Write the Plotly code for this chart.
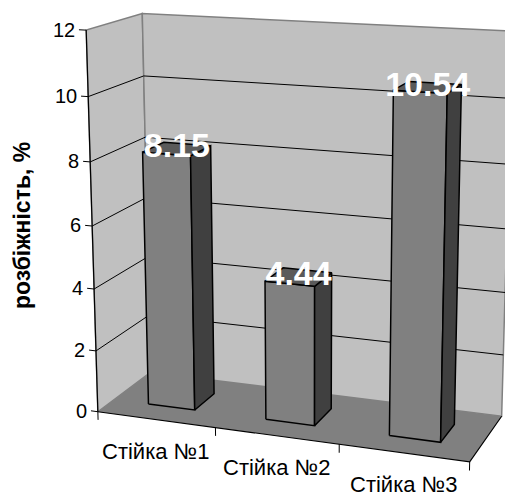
import numpy as np
import plotly.graph_objects as go

# ---------------- data ----------------
categories = ["Стійка №1", "Стійка №2", "Стійка №3"]
values = [8.15, 4.44, 10.54]
value_ticks = [0, 2, 4, 6, 8, 10, 12]
value_tick_labels = ["0", "2", "4", "6", "8", "10", "12"]
value_axis_title = "розбіжність, %"

# ---------------- 3-D frame / camera calibration ----------------
# world: X = category axis (0..n), Y = depth (0 front .. 1 back), Z = value axis
Z_MAX = 12.0
N_CAT = len(categories)
calib_world = np.array([
    [0, 0, 0], [0, 0, 12], [0, 0, 2], [0, 0, 4], [0, 0, 6], [0, 0, 8], [0, 0, 10],
    [0, 1, 0], [0, 1, 12], [0, 1, 10], [0, 1, 8],
    [3, 0, 0], [1, 0, 0], [2, 0, 0],
    [3, 1, 0], [3, 1, 12], [3, 1, 10],
], dtype=float)
calib_px = np.array([
    [99, 411], [85, 30], [97, 352], [95, 289], [92, 226], [90, 162], [87, 97],
    [148, 373], [143, 13], [145, 76], [146, 137],
    [471, 462], [215, 427], [338, 444],
    [502, 416], [512, 31], [510, 99],
], dtype=float)

WSCALE = np.array([N_CAT, 1.0, Z_MAX])


def fit_projection(W, P):
    Wn = W / WSCALE
    Pn = (P - 250.0) / 250.0
    rows = []
    for (X, Y, Z), (u, v) in zip(Wn, Pn):
        rows.append([X, Y, Z, 1, 0, 0, 0, 0, -u * X, -u * Y, -u * Z, -u])
        rows.append([0, 0, 0, 0, X, Y, Z, 1, -v * X, -v * Y, -v * Z, -v])
    _, _, Vt = np.linalg.svd(np.array(rows))
    return Vt[-1].reshape(3, 4)


M = fit_projection(calib_world, calib_px)


def proj(X, Y, Z):
    h = M @ np.array([X / N_CAT, Y, Z / Z_MAX, 1.0])
    return h[0] / h[2] * 250 + 250, h[1] / h[2] * 250 + 250


traces = []


def poly(pts, fill, line_color="rgba(0,0,0,0)", lw=0):
    xy = [proj(*p) for p in pts]
    xs = [a for a, b in xy] + [xy[0][0]]
    ys = [b for a, b in xy] + [xy[0][1]]
    traces.append(go.Scatter(x=xs, y=ys, mode="lines", fill="toself", fillcolor=fill,
                             line=dict(color=line_color, width=lw), hoverinfo="skip"))


def lines(segs, color, lw):
    xs, ys = [], []
    for seg in segs:
        for p in seg:
            a, b = proj(*p)
            xs.append(a)
            ys.append(b)
        xs.append(None)
        ys.append(None)
    traces.append(go.Scatter(x=xs, y=ys, mode="lines", line=dict(color=color, width=lw),
                             hoverinfo="skip"))


WALL = "#c0c0c0"
FLOOR = "#808080"
EDGE = "#808080"

# side wall & back wall
poly([(0, 0, 0), (0, 1, 0), (0, 1, Z_MAX), (0, 0, Z_MAX)], WALL, EDGE, 1.5)
poly([(0, 1, 0), (N_CAT, 1, 0), (N_CAT, 1, Z_MAX), (0, 1, Z_MAX)], WALL, EDGE, 1.5)

# gridlines
grid = [[(0, 0, z), (0, 1, z), (N_CAT, 1, z)] for z in value_ticks if 0 < z < Z_MAX]
lines(grid, "#000000", 1)

# floor
poly([(0, 0, 0), (N_CAT, 0, 0), (N_CAT, 1, 0), (0, 1, 0)], FLOOR)
lines([[(0, 0, 0), (N_CAT, 0, 0), (N_CAT, 1, 0)]], "#000000", 1.2)

# value axis line + ticks
lines([[(0, 0, 0), (0, 0, Z_MAX)]], "#000000", 1.2)
lines([[(0, 0, z), (-0.06, 0, z)] for z in value_ticks], "#000000", 1)
# category ticks
lines([[(i, 0, 0), (i, 0, -0.27)] for i in range(N_CAT + 1)], "#000000", 1)

# bars
GAP = 0.3
D0, D1 = 0.3, 0.7
label_x, label_y = [], []
for i, v in enumerate(values):
    a, b = i + GAP, i + 1 - GAP
    poly([(a, D0, 0), (b, D0, 0), (b, D0, v), (a, D0, v)], "#808080", "#000000", 1.5)
    poly([(b, D0, 0), (b, D1, 0), (b, D1, v), (b, D0, v)], "#404040", "#000000", 1.5)
    poly([(a, D0, v), (b, D0, v), (b, D1, v), (a, D1, v)], "#5a5a5a", "#000000", 1.5)
    lx, ly = proj(i + 0.5, 0.5, v)
    label_x.append(lx)
    label_y.append(ly)

traces.append(go.Scatter(x=label_x, y=label_y, mode="text",
                         text=[f"{v:.2f}" for v in values], textposition="middle center",
                         textfont=dict(family="Liberation Sans, Arial", size=34, color="white",
                                       weight="bold"),
                         hoverinfo="skip"))

annotations = []
for z, t in zip(value_ticks, value_tick_labels):
    px, py = proj(-0.06, 0, z)
    annotations.append(dict(x=px - 2, y=py, xref="x", yref="y", text=t, showarrow=False,
                            xanchor="right", yanchor="middle",
                            font=dict(family="Liberation Sans, Arial", size=20, color="black")))
for i, c in enumerate(categories):
    px, py = proj(i + 0.5, 0, 0)
    annotations.append(dict(x=px, y=py, xref="x", yref="y", text=c, showarrow=False,
                            xanchor="center", yanchor="middle", yshift=-32,
                            font=dict(family="Liberation Sans, Arial", size=22, color="black")))
annotations.append(dict(x=22, y=226, xref="x", yref="y",
                        text=value_axis_title, showarrow=False, textangle=-90,
                        xanchor="center", yanchor="middle",
                        font=dict(family="Liberation Sans, Arial", size=23, color="black",
                                  weight="bold")))

# the page body carries the browser's default 8 px margin: shift axis ranges so
# that data coordinates coincide with window pixels
PAGE_OFF = 8
W, H = 513, 497
fig = go.Figure(traces)
fig.update_layout(
    width=W, height=H, margin=dict(l=0, r=0, t=0, b=0),
    paper_bgcolor="white", plot_bgcolor="white", showlegend=False,
    xaxis=dict(range=[PAGE_OFF, PAGE_OFF + W], visible=False, fixedrange=True),
    yaxis=dict(range=[PAGE_OFF + H, PAGE_OFF], visible=False, fixedrange=True),
    annotations=annotations,
)
fig.write_html("out.html")
